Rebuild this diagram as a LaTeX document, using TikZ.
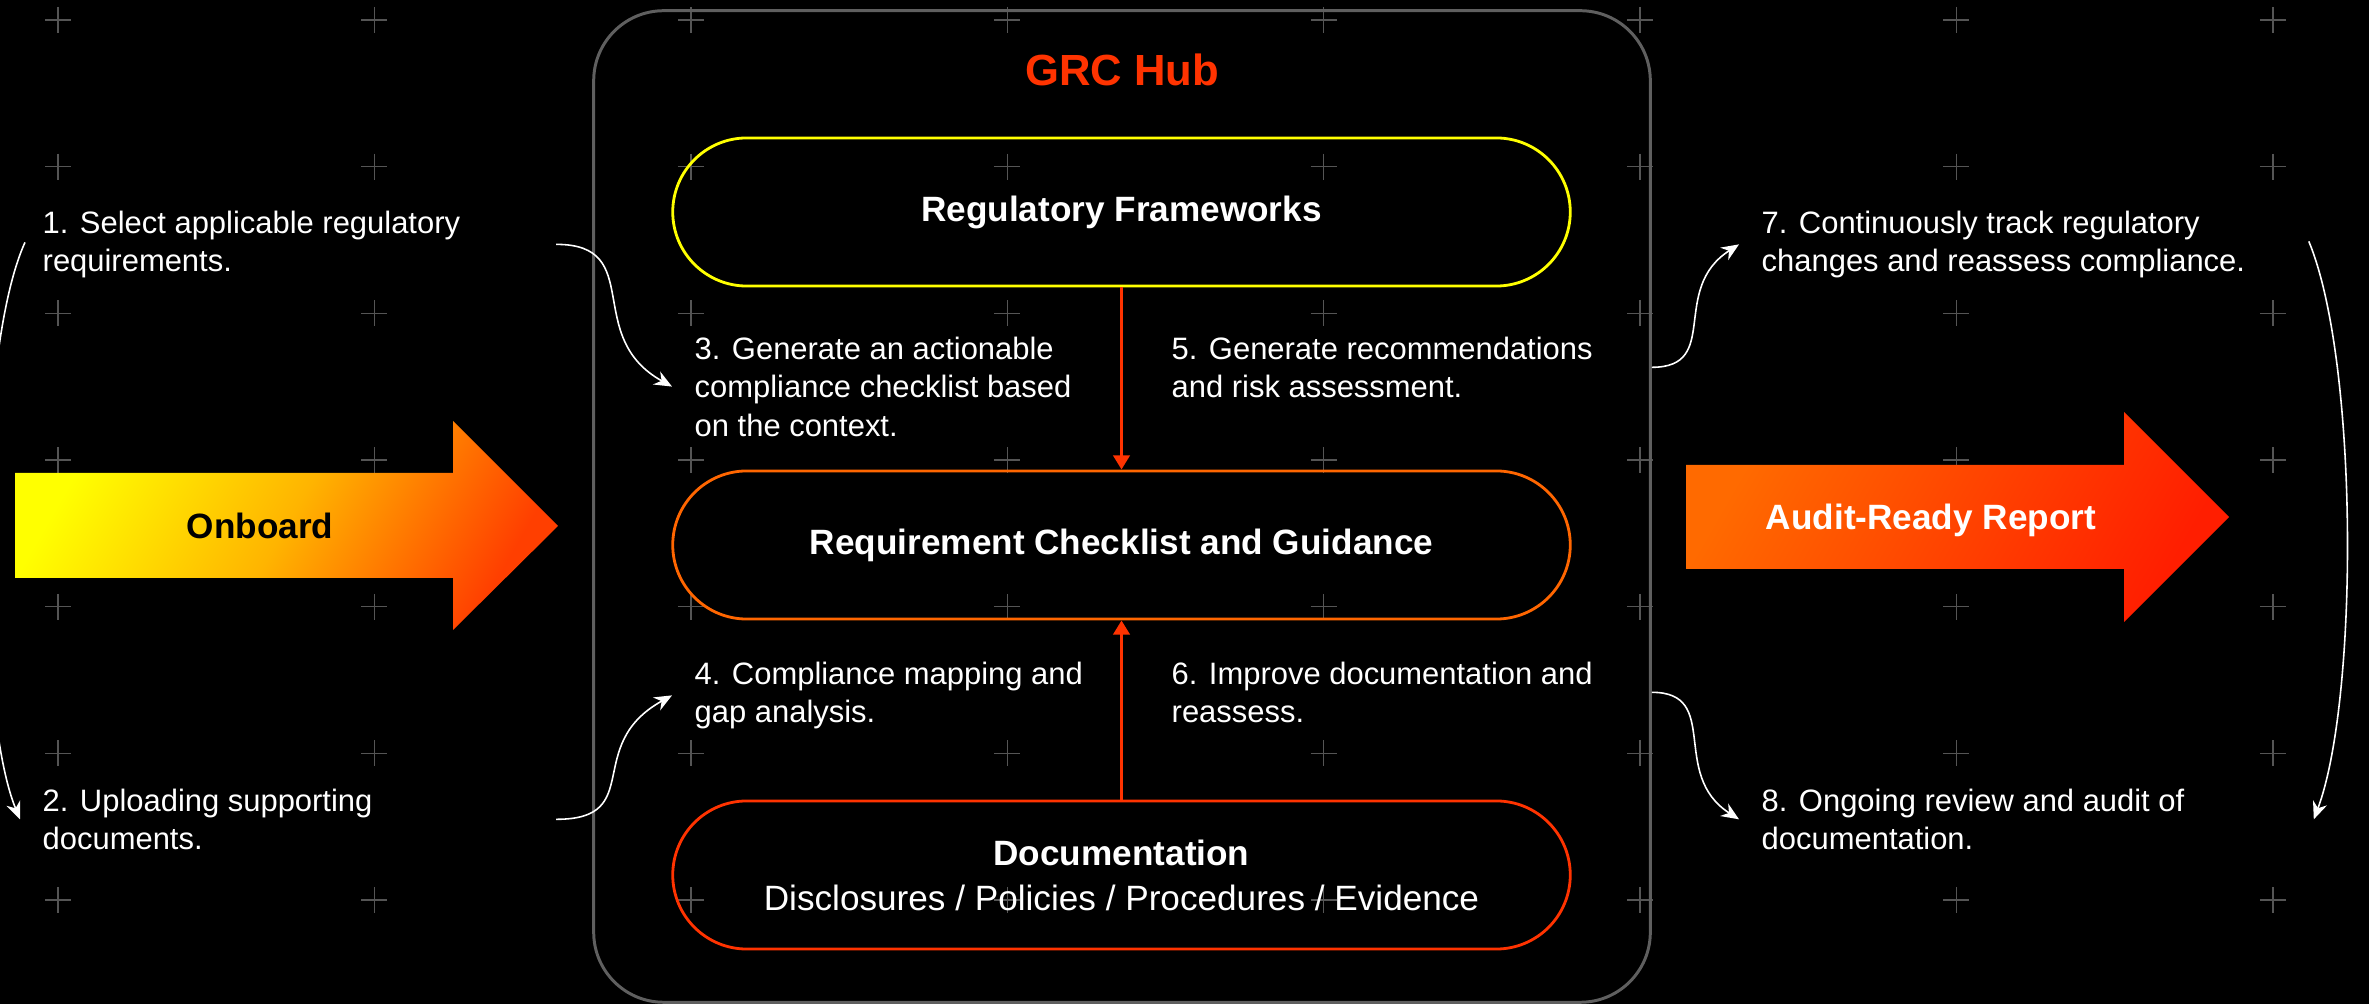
\documentclass[tikz,border=0pt]{standalone}
\usepackage{fontspec}
\setmainfont{Liberation Sans}
\usetikzlibrary{arrows.meta,calc}
\definecolor{hubgray}{HTML}{5F5F5F}
\definecolor{crossgray}{HTML}{555555}
\definecolor{regyellow}{HTML}{FFFF00}
\definecolor{reqorange}{HTML}{FF6600}
\definecolor{docred}{HTML}{FF3300}
\definecolor{onbyellow}{HTML}{FFFF00}
\definecolor{onbmid}{HTML}{FFB400}
\definecolor{onbred}{HTML}{FF3F00}
\definecolor{audorange}{HTML}{FF6A00}
\definecolor{audred}{HTML}{FF1E00}

\begin{document}
\begin{tikzpicture}[x=0.01cm, y=-0.01cm,
      pill/.style = {shape=rectangle, draw, rounded corners=0.74cm,
        minimum width=8.97cm, minimum height=1.48cm, line width=0.8pt,
        text=white, align=center, font=\fontsize{10}{12.8}\selectfont\bfseries},
      steptext/.style = {anchor=north west, inner sep=0pt, align=left,
        text=white, font=\fontsize{8.8}{10.95}\selectfont},
      arrowtext/.style = {inner sep=0pt, font=\fontsize{10}{12}\selectfont\bfseries},
      flowline/.style = {draw=docred, line width=0.9pt,
        -{Triangle[length=4pt,width=4.6pt]}},
      loopline/.style = {draw=white, line width=0.45pt,
        -{Stealth[length=5pt,width=4.2pt]}}]
      \fill[black] (0,0) rectangle (2369,1004);
      \useasboundingbox (0,0) rectangle (2369,1004);
      \foreach \i in {0,...,7}
        \foreach \j in {0,...,6}
          \draw[crossgray, line width=0.4pt] ({58+316.4*\i},{20+146.7*\j})
            +(-13,0) -- +(13,0) +(0,-13) -- +(0,13);

      \node[draw=hubgray, line width=0.85pt, rounded corners=0.7cm,
        minimum width=10.56cm, minimum height=9.91cm] (hub) at (1122,506.5) {};
      \node[text=docred, font=\fontsize{12.4}{14}\selectfont\bfseries] (title)
        at (1122,70) {GRC Hub};

      \node[pill, draw=regyellow] (reg) at (1121.5,212) {Regulatory Frameworks};
      \node[pill, draw=reqorange] (req) at (1121.5,545) {Requirement Checklist and Guidance};
      \node[pill, draw=docred] (doc) at (1121.5,875)
        {Documentation\\{\mdseries Disclosures / Policies / Procedures / Evidence}};
      \draw[flowline] (reg) -- (req);
      \draw[flowline] (doc) -- (req);

      \node[steptext] (s1) at (42,210) {1. Select applicable regulatory\\requirements.};
      \node[steptext] (s2) at (42,788) {2. Uploading supporting\\documents.};
      \node[steptext] (s3) at (694,336) {3. Generate an actionable\\compliance checklist based\\on the context.};
      \node[steptext] (s4) at (694,661) {4. Compliance mapping and\\gap analysis.};
      \node[steptext] (s5) at (1171,336) {5. Generate recommendations\\and risk assessment.};
      \node[steptext] (s6) at (1171,661) {6. Improve documentation and\\reassess.};
      \node[steptext] (s7) at (1761,210) {7. Continuously track regulatory\\changes and reassess compliance.};
      \node[steptext] (s8) at (1761,788) {8. Ongoing review and audit of\\documentation.};

      \draw[loopline] ($(s1.west)+(-17,-2)$) .. controls +(-50,110) and +(-45,-110) .. ($(s2.west)+(-22,0)$);
      \draw[loopline] ($(s1.east -| hub.west)+(-36,0)$) .. controls +(90,0) and +(-90,-50) .. ($(s3.west)+(-22,0)$);
      \draw[loopline] ($(s2.east -| hub.west)+(-36,0)$) .. controls +(90,0) and +(-90,50) .. ($(s4.west)+(-22,0)$);
      \draw[loopline] (s5.east -| hub.east) .. controls +(70,0) and +(-70,45) .. ($(s7.west)+(-22,0)$);
      \draw[loopline] (s6.east -| hub.east) .. controls +(70,0) and +(-70,-45) .. ($(s8.west)+(-22,0)$);
      \draw[loopline] ($(s7.east)+(63,-3)$) .. controls +(50,120) and +(45,-120) .. ($(s7.east |- s8.east)+(68,0)$);

      \shade[left color=onbyellow, right color=onbred, middle color=onbmid, shading angle=60]
        (15,473) -- (453,473) -- (453,421) -- (558,526) -- (453,630) -- (453,578) -- (15,578) -- cycle;
      \node[arrowtext, text=black] (onboard) at (260,526) {Onboard};
      \shade[left color=audorange, right color=audred, shading angle=60]
        (1686,465) -- (2124,465) -- (2124,412) -- (2229,517) -- (2124,622) -- (2124,569) -- (1686,569) -- cycle;
      \node[arrowtext, text=white] (audit) at (1931,520) {Audit-Ready Report};
\end{tikzpicture}
\end{document}
